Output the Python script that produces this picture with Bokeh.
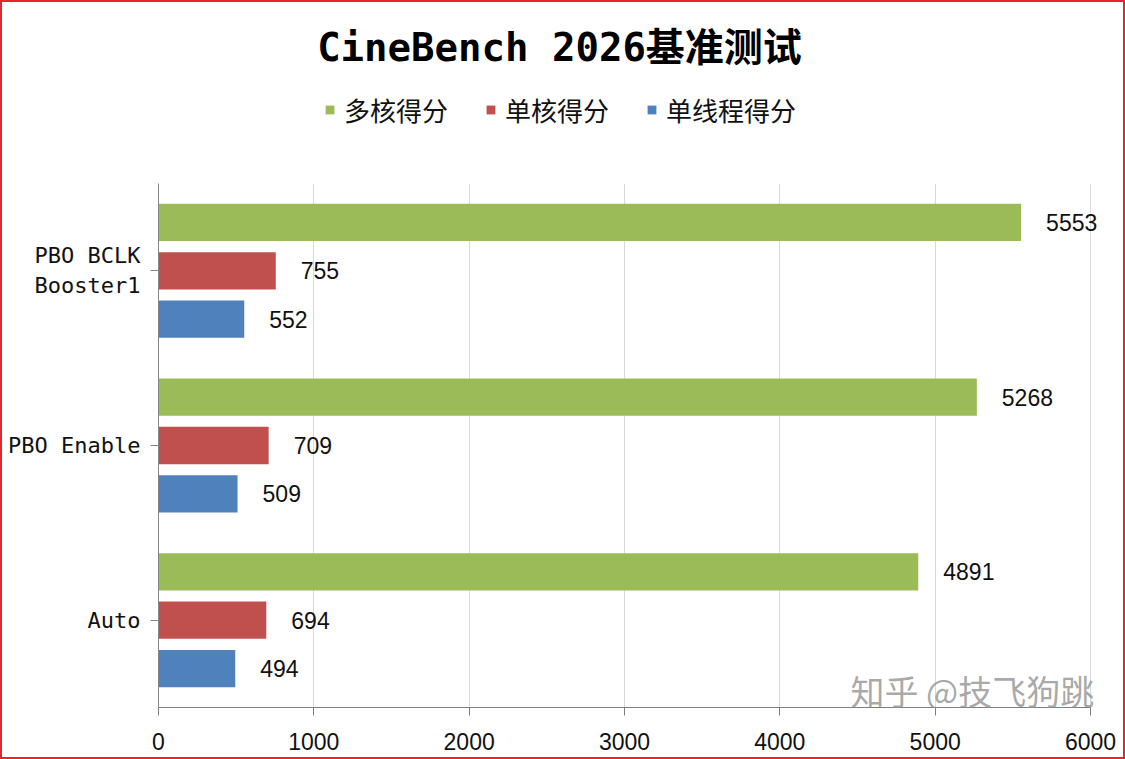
from bokeh.plotting import figure
from bokeh.layouts import column
from bokeh.models import (FactorRange, Legend, LegendItem, Label, FixedTicker,
                          ColumnDataSource)
from bokeh.transform import dodge
from bokeh.core.properties import value
from bokeh.embed import file_html
from bokeh.resources import INLINE

# ---- data ----
categories = ["Auto", "PBO Enable", "PBO BCLK\nBooster1"]
multi_core = [4891, 5268, 5553]
single_core = [694, 709, 755]
single_thread = [494, 509, 552]
series_names = ["多核得分", "单核得分", "单线程得分"]
series_colors = ["#9BBB59", "#C0504D", "#4F81BD"]
x_ticks = [0, 1000, 2000, 3000, 4000, 5000, 6000]
title_text = "CineBench 2026基准测试"
watermark = "知乎 @技飞狗跳"

MONO = "'DejaVu Sans Mono', 'Noto Sans CJK SC', monospace"
SANS = "'Liberation Sans', Arial, sans-serif"
CJK = "'Noto Sans CJK SC', sans-serif"
BORDER = "2px solid #e0282e"

# ---------------- header (title + legend) ----------------
head = figure(width=1125, height=183, x_range=(0, 1), y_range=(0, 1),
              output_backend="svg", toolbar_location=None,
              min_border=0, min_border_left=0, min_border_right=0,
              min_border_top=0, min_border_bottom=0)
head.axis.visible = False
head.grid.visible = False
head.outline_line_color = None
head.styles = {"border-left": BORDER, "border-right": BORDER,
               "border-top": BORDER, "box-sizing": "border-box"}

title = Label(x=401, y=138, x_units="screen", y_units="screen",
              text=title_text, text_align="center", text_baseline="middle",
              text_font=MONO, text_font_size="39px", text_font_style="bold",
              text_color="#000000")
head.add_layout(title)

# legend swatches (off-range placeholder rows so the legend has glyphs)
dummy = ColumnDataSource(dict(y=[5], right=[0]))
legend_renderers = [head.hbar(y="y", right="right", height=0.1, source=dummy,
                              fill_color=c, line_color=None)
                    for c in series_colors]
legend = Legend(items=[LegendItem(label=n, renderers=[r])
                       for n, r in zip(series_names, legend_renderers)],
                orientation="horizontal", location=(166, 57),
                glyph_width=11, glyph_height=11, label_standoff=9,
                spacing=37, padding=0, margin=0,
                label_text_font=CJK, label_text_font_size="26px",
                label_text_color="#111111", border_line_color=None,
                background_fill_alpha=0)
head.add_layout(legend, "center")

# ---------------- main chart ----------------
src = ColumnDataSource(dict(
    cat=categories,
    multi=multi_core, single=single_core, thread=single_thread,
    multi_s=[str(v) for v in multi_core],
    single_s=[str(v) for v in single_core],
    thread_s=[str(v) for v in single_thread],
))

p = figure(width=1125, height=576,
           y_range=FactorRange(factors=categories), x_range=(0, 6090),
           output_backend="svg", toolbar_location=None,
           min_border_left=156, min_border_right=23, min_border_bottom=52,
           min_border_top=0)
p.styles = {"border-left": BORDER, "border-right": BORDER,
            "border-bottom": BORDER, "box-sizing": "border-box"}
p.outline_line_color = None
p.background_fill_color = "white"
p.border_fill_color = "white"

offsets = [0.277, 0.0, -0.277]
fields = ["multi", "single", "thread"]
for f, off, col in zip(fields, offsets, series_colors):
    p.hbar(y=dodge("cat", off, range=p.y_range), left=0, right=f,
           height=0.2135, source=src, fill_color=col, line_color=None)
    p.text(x=f, y=dodge("cat", off, range=p.y_range), text=f + "_s",
           source=src, x_offset=25, text_baseline="middle", text_align="left",
           text_font=value("Liberation Sans"), text_font_size="23px",
           text_color="#111111")

# axes
p.xaxis.ticker = FixedTicker(ticks=x_ticks)
p.xaxis.bounds = (0, 6000)
p.xaxis.axis_line_color = "#7f7f7f"
p.xaxis.major_tick_line_color = "#7f7f7f"
p.xaxis.major_tick_out = 8
p.xaxis.major_tick_in = 0
p.xaxis.minor_tick_line_color = None
p.xaxis.major_label_text_font = SANS
p.xaxis.major_label_text_font_size = "23px"
p.xaxis.major_label_text_color = "#111111"
p.xaxis.major_label_standoff = 17

p.yaxis.axis_line_color = "#868686"
p.yaxis.major_tick_line_color = "#868686"
p.yaxis.major_tick_out = 8
p.yaxis.major_tick_in = 0
p.yaxis.minor_tick_line_color = None
p.yaxis.major_label_text_font = MONO
p.yaxis.major_label_text_font_size = "22px"
p.yaxis.major_label_text_color = "#111111"
p.yaxis.major_label_standoff = 10

p.xgrid.ticker = FixedTicker(ticks=x_ticks)
p.xgrid.grid_line_color = "#d9d9d9"
p.ygrid.visible = False

wm = Label(x=692, y=17, x_units="screen", y_units="screen", text=watermark,
           text_color="#9a9a9a", text_alpha=0.85, text_font=CJK,
           text_font_size="34px", text_baseline="middle")
p.add_layout(wm)

layout = column(head, p, spacing=0)
open("out.html", "w").write(file_html(layout, INLINE))
